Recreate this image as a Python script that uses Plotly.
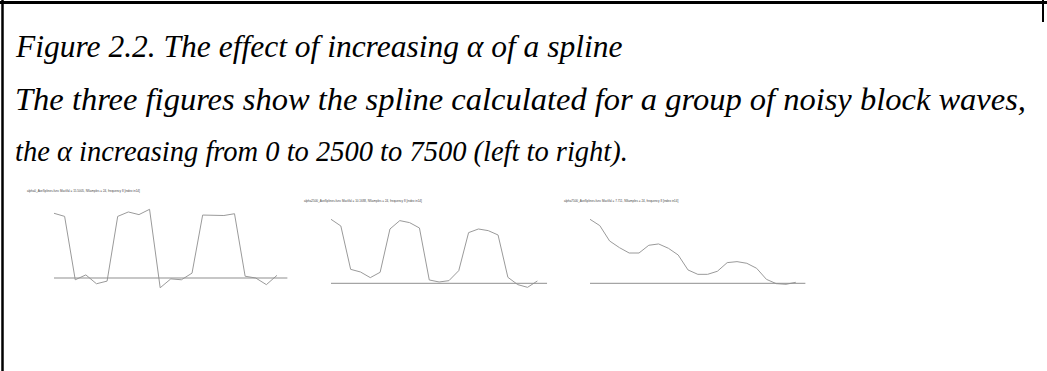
import plotly.graph_objects as go

# ---------------- data ----------------
caption_lines = [
    "Figure 2.2. The effect of increasing α of a spline",
    "The three figures show the spline calculated for a group of noisy block waves,",
    "the α increasing from 0 to 2500 to 7500 (left to right).",
]

titles = [
    "alpha0_AveSplines.func MaxVal = 15.5005, NSamples = 24, frequency 8 [index in14]",
    "alpha2500_AveSplines.func MaxVal = 10.1688, NSamples = 24, frequency 8 [index in14]",
    "alpha7500_AveSplines.func MaxVal = 7.711, NSamples = 24, frequency 8 [index in14]",
]
max_vals = [15.5, 10.17, 7.71]

alpha0 = [14.6, 13.9, -0.4, 0.7, -1.3, -0.7, 13.9, 14.9, 14.3, 15.5, -2.2,
          -0.2, -0.4, 1.1, 14.2, 14.1, 14.1, 14.5, 0.4, 0.0, -1.5, 0.6]
alpha2500 = [10.17, 9.11, 2.22, 1.80, 0.90, 1.75, 8.63, 9.96, 9.64, 8.79, 0.53,
             0.21, 0.42, 2.01, 8.05, 8.63, 8.37, 7.68, 0.95, -0.21, -0.64, 0.37]
alpha7500 = [7.71, 6.95, 5.10, 4.30, 3.65, 3.65, 4.58, 4.74, 4.22, 3.41, 1.61,
             1.08, 1.08, 1.45, 2.49, 2.61, 2.41, 1.81, 0.48, -0.04, -0.12, 0.12]
series = [alpha0, alpha2500, alpha7500]

# ---------------- layout helpers ----------------
W, H = 1047, 371

def xp(px):
    return px / W

def yp(py):
    return 1 - py / H

# pixel geometry per panel: x of index 0, x of last zero-line index, y of 0, y of max
panels = [
    dict(x0=54, x1=287.6, y0=278.0, ytop=209.3, tx=25, ty=191),
    dict(x0=331, x1=547.2, y0=283.3, ytop=219.3, tx=302, ty=201),
    dict(x0=590, x1=805.6, y0=283.3, ytop=219.3, tx=562, ty=201),
]
DOM_TOP, DOM_BOT = 188, 302

fig = go.Figure()
annotations = []
shapes = []

for i, (vals, p, mv, title) in enumerate(zip(series, panels, max_vals, titles)):
    n = len(vals)
    xa = "x" if i == 0 else f"x{i+1}"
    ya = "y" if i == 0 else f"y{i+1}"
    fig.add_trace(go.Scatter(
        x=list(range(n)), y=vals, mode="lines",
        line=dict(color="#9a9a9a", width=1), xaxis=xa, yaxis=ya,
        showlegend=False, hoverinfo="skip"))
    # zero line across the panel
    fig.add_trace(go.Scatter(
        x=[0, n], y=[0, 0], mode="lines",
        line=dict(color="#8f8f8f", width=1), xaxis=xa, yaxis=ya,
        showlegend=False, hoverinfo="skip"))

    s = (p["y0"] - p["ytop"]) / mv
    lo = -(DOM_BOT - p["y0"]) / s
    hi = (p["y0"] - DOM_TOP) / s
    axn = "" if i == 0 else str(i + 1)
    fig.update_layout(**{
        f"xaxis{axn}": dict(domain=[xp(p["x0"]), xp(p["x1"])], range=[0, n],
                            visible=False, anchor=ya),
        f"yaxis{axn}": dict(domain=[yp(DOM_BOT), yp(DOM_TOP)], range=[lo, hi],
                            visible=False, anchor=xa),
    })
    annotations.append(dict(
        text=title, xref="paper", yref="paper", x=xp(p["tx"]), y=yp(p["ty"]),
        xanchor="left", yanchor="middle", showarrow=False,
        font=dict(family="Liberation Sans", size=3, color="#444444")))

# caption text
caption_sizes = [31.5, 32.5, 28.5]
for j, (line, fs) in enumerate(zip(caption_lines, caption_sizes)):
    annotations.append(dict(
        text=f"<i>{line}</i>", xref="paper", yref="paper",
        x=xp(13), y=yp(47 + 52.5 * j), xanchor="left", yanchor="middle",
        showarrow=False,
        font=dict(family="Liberation Serif", size=fs, color="#000000")))

# frame lines
shapes.append(dict(type="line", xref="paper", yref="paper",
                   x0=xp(0), x1=xp(1047), y0=yp(2.5), y1=yp(2.5),
                   line=dict(color="black", width=3)))
shapes.append(dict(type="line", xref="paper", yref="paper",
                   x0=xp(2.5), x1=xp(2.5), y0=yp(0), y1=yp(371),
                   line=dict(color="black", width=2.5)))
shapes.append(dict(type="line", xref="paper", yref="paper",
                   x0=xp(1043), x1=xp(1043), y0=yp(0), y1=yp(22),
                   line=dict(color="black", width=2)))

fig.update_layout(
    width=W, height=H, margin=dict(l=0, r=0, t=0, b=0),
    paper_bgcolor="white", plot_bgcolor="white",
    annotations=annotations, shapes=shapes,
)

fig.write_html("out.html")
